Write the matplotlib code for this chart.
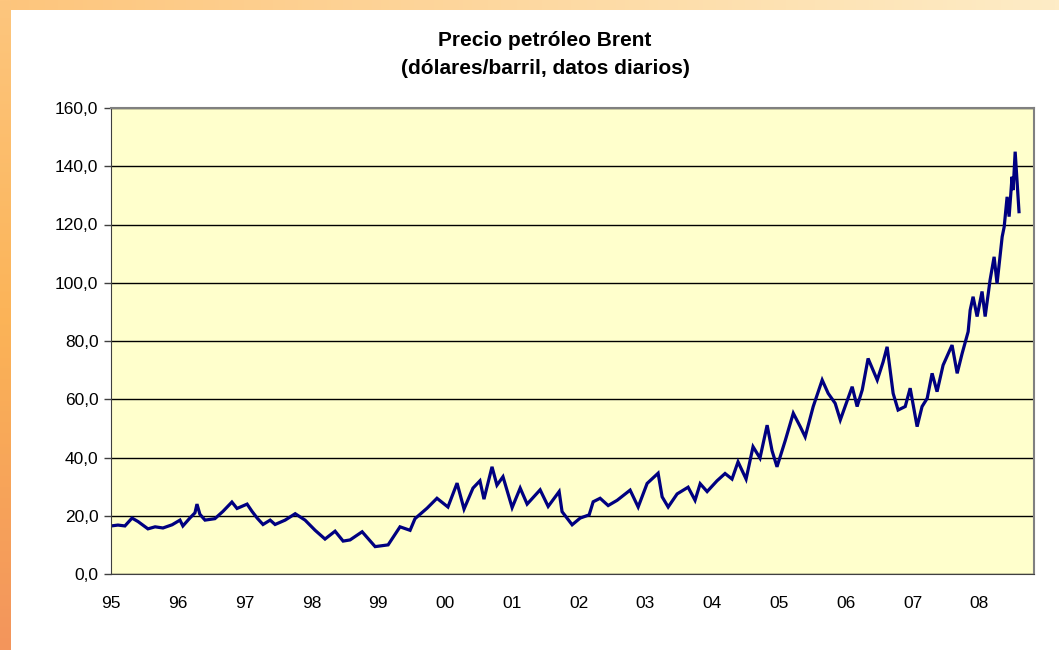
import numpy as np
import pandas as pd
import matplotlib
matplotlib.use("Agg")
import matplotlib.pyplot as plt
from matplotlib.ticker import FuncFormatter

# Brent daily price at its turning points
dates = [
    "1995-01-02", "1995-02-08", "1995-03-18", "1995-04-26", "1995-05-29", "1995-07-22",
    "1995-08-30", "1995-10-12", "1995-12-01", "1996-01-13", "1996-01-29", "1996-03-07",
    "1996-04-04", "1996-04-15", "1996-05-01", "1996-05-29", "1996-07-22", "1996-09-04",
    "1996-10-23", "1996-11-20", "1997-01-14", "1997-02-10", "1997-03-10", "1997-04-11",
    "1997-05-20", "1997-06-16", "1997-08-10", "1997-10-04", "1997-11-27", "1998-01-21",
    "1998-03-16", "1998-05-10", "1998-06-23", "1998-07-31", "1998-10-05", "1998-12-15",
    "1999-02-24", "1999-04-30", "1999-06-24", "1999-07-21", "1999-09-25", "1999-11-18",
    "2000-01-17", "2000-03-07", "2000-04-14", "2000-06-02", "2000-07-10", "2000-08-01",
    "2000-09-14", "2000-10-11", "2000-11-13", "2001-01-02", "2001-02-15", "2001-03-25",
    "2001-06-04", "2001-07-18", "2001-09-16", "2001-10-02", "2001-11-26", "2002-01-09",
    "2002-02-27", "2002-03-21", "2002-04-28", "2002-06-11", "2002-07-30", "2002-10-09",
    "2002-11-22", "2003-01-10", "2003-03-11", "2003-04-02", "2003-05-05", "2003-06-23",
    "2003-08-22", "2003-09-29", "2003-10-27", "2003-12-04", "2004-01-27", "2004-03-11",
    "2004-04-18", "2004-05-21", "2004-07-04", "2004-08-11", "2004-09-18", "2004-10-27",
    "2004-11-23", "2004-12-20", "2005-02-03", "2005-03-19", "2005-04-26", "2005-05-23",
    "2005-07-06", "2005-08-24", "2005-09-26", "2005-11-03", "2005-12-01", "2006-02-04",
    "2006-03-03", "2006-03-31", "2006-05-02", "2006-06-21", "2006-07-23", "2006-08-14",
    "2006-09-16", "2006-10-13", "2006-11-21", "2006-12-18", "2007-01-25", "2007-02-21",
    "2007-03-21", "2007-04-17", "2007-05-14", "2007-06-16", "2007-08-04", "2007-09-01",
    "2007-09-28", "2007-10-31", "2007-11-11", "2007-11-27", "2007-12-19", "2008-01-15",
    "2008-02-01", "2008-02-28", "2008-03-21", "2008-04-06", "2008-05-04", "2008-05-15",
    "2008-05-31", "2008-06-11", "2008-06-27", "2008-07-03", "2008-07-14", "2008-07-25",
    "2008-08-04",
]
prices = [
    16.5, 16.8, 16.5, 19.2, 18.0, 15.5,
    16.2, 15.8, 16.9, 18.5, 16.5, 19.2,
    21.0, 24.0, 20.5, 18.5, 19.0, 21.5,
    24.7, 22.5, 24.0, 21.5, 19.2, 17.0,
    18.5, 17.0, 18.5, 20.7, 18.5, 15.0,
    12.0, 14.7, 11.3, 11.7, 14.5, 9.4,
    10.0, 16.2, 15.0, 19.0, 22.6, 26.0,
    23.0, 31.2, 22.3, 29.5, 32.0, 25.7,
    36.8, 30.5, 33.4, 22.8, 29.5, 24.0,
    28.9, 23.2, 28.3, 21.4, 16.9, 19.2,
    20.3, 24.8, 26.0, 23.5, 25.3, 28.8,
    23.0, 31.1, 34.6, 26.5, 23.0, 27.5,
    29.8, 25.3, 31.0, 28.3, 32.0, 34.5,
    32.6, 38.5, 32.6, 43.7, 39.8, 51.1,
    42.3, 36.8, 45.8, 55.2, 50.6, 47.1,
    57.5, 66.6, 62.0, 58.6, 52.9, 64.3,
    57.5, 63.2, 74.0, 66.6, 72.8, 78.0,
    62.0, 56.3, 57.5, 63.8, 50.6, 57.5,
    60.3, 68.9, 62.6, 71.7, 78.6, 68.9,
    75.7, 83.2, 90.6, 95.2, 88.4, 97.0,
    88.4, 101.0, 108.9, 99.7, 115.8, 119.2,
    129.5, 122.7, 136.4, 131.8, 145.0, 134.1,
    124.4,
]
year_ticks = [str(y) for y in range(1995, 2009)]
year_labels = [y[2:] for y in year_ticks]

x = pd.to_datetime(dates)

plt.rcParams['font.family'] = ['Liberation Sans', 'DejaVu Sans']
fig = plt.figure(figsize=(10.59, 6.5), dpi=100)

# orange frame (top and left bands)
top = fig.add_axes([0, 1 - 10 / 650, 1, 10 / 650])
top.imshow(np.linspace(0, 1, 256).reshape(1, -1), aspect='auto',
           cmap=matplotlib.colors.LinearSegmentedColormap.from_list('t', ['#fdc57c', '#feecc6']))
top.axis('off')
left = fig.add_axes([0, 0, 11 / 1059, 1])
left.imshow(np.linspace(0, 1, 256).reshape(-1, 1), aspect='auto',
            cmap=matplotlib.colors.LinearSegmentedColormap.from_list('l', ['#fdc67e', '#fbb357', '#f3955c']))
left.axis('off')

ax = fig.add_axes([111 / 1059, 76 / 650, 923 / 1059, 466 / 650])
ax.set_facecolor('#ffffcc')
ax.plot(x, prices, color='#000080', lw=2.3, solid_joinstyle='miter')

ax.set_ylim(0, 160)
ax.set_yticks(range(0, 161, 20))
ax.yaxis.set_major_formatter(FuncFormatter(lambda v, p: f"{v:.1f}".replace('.', ',')))
ax.grid(axis='y', color='black', lw=1)
ax.set_axisbelow(True)

ax.set_xlim(pd.Timestamp('1995-01-01'), pd.Timestamp('2008-10-25'))
ax.set_xticks(pd.to_datetime(year_ticks))
ax.set_xticklabels(year_labels)
ax.tick_params(axis='x', length=0, pad=16, labelsize=12.5)
ax.tick_params(axis='y', length=5, width=1, color='#404040', labelsize=12.5, pad=4)

for side in ['top', 'right']:
    ax.spines[side].set_color('#808080')
    ax.spines[side].set_linewidth(1.5)
ax.spines['left'].set_color('#404040')
ax.spines['bottom'].set_color('#404040')

fig.text(545 / 1059, 1 - 40 / 650, "Precio petróleo Brent", ha='center', va='center',
         fontsize=15, fontweight='bold')
fig.text(545 / 1059, 1 - 69 / 650, "(dólares/barril, datos diarios)", ha='center', va='center',
         fontsize=15, fontweight='bold')

fig.savefig('out.png', dpi=100)
